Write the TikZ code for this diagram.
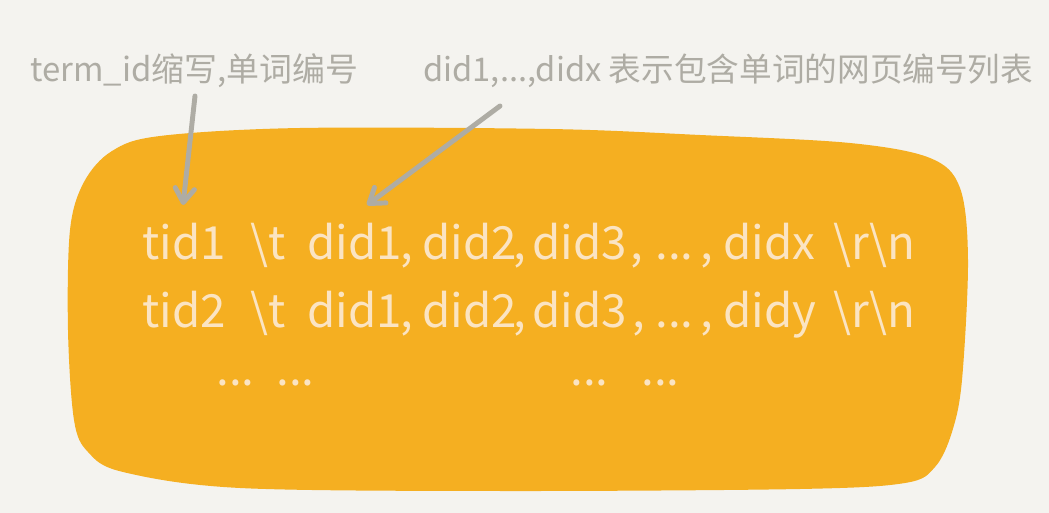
\documentclass[tikz,border=0pt]{standalone}
\usepackage{fontspec}
\setmainfont{Noto Sans CJK SC}
\usetikzlibrary{arrows.meta}
\definecolor{paperBg}{HTML}{F4F3EF}
\definecolor{blobOrange}{HTML}{F5AF21}
\definecolor{noteGray}{HTML}{AEACA4}
\definecolor{creamText}{HTML}{FBE4C2}
\newcommand{\dotrun}{...}
\tikzset{
  noteLabel/.style={
    anchor=base west,
    inner sep=0pt,
    text=noteGray,
    font=\fontsize{21}{25}\selectfont
  },
  postToken/.style={
    anchor=base west,
    inner sep=0pt,
    text=creamText,
    font=\fontsize{26}{30}\selectfont
  },
  noteArrow/.style={
    draw=noteGray,
    line width=2.8pt,
    line cap=round,
    -{Straight Barb[length=8pt,width=11pt,line cap=round,line join=round]}
  }
}
\begin{document}
\begin{tikzpicture}[x=0.02cm,y=-0.02cm]
  % Paper
  \fill[paperBg] (0,0) rectangle (1049,513);
  \useasboundingbox (0,0) rectangle (1049,513);
  % Orange blob
  \fill[blobOrange] plot[smooth cycle, tension=0.55] coordinates {
    (160,136) (300,128) (550,129) (700,135) (850,143) (930,158) (960,188)
    (968,260) (962,380) (952,432) (935,467) (905,483) (800,489) (500,491)
    (240,488) (123,472) (88,452) (74,420) (68,330) (70,230) (84,182) (112,151)};
  % Labels
  \node[noteLabel] (termlbl) at (30,82) {\resizebox{6.56cm}{!}{term\_id缩写,单词编号}};
  \node[noteLabel] (didlbl) at (423,82) {\resizebox{12.2cm}{!}{did1,\dotrun,didx 表示包含单词的网页编号列表}};
  % Posting lines
  \foreach \tok/\px [count=\i] in {tid1/142, {\textbackslash t}/250, did1/307, {,}/400, did2/422, {,}/513,
      did3/532, {,}/630, \dotrun/655, {,}/700, didx/723, {\textbackslash r\textbackslash n}/833}
    \node[postToken] (la\i) at (\px,260) {\tok};
  \foreach \tok/\px [count=\i] in {tid2/142, {\textbackslash t}/250, did1/307, {,}/400, did2/422, {,}/513,
      did3/532, {,}/632, \dotrun/655, {,}/700, didy/723, {\textbackslash r\textbackslash n}/833}
    \node[postToken] (lb\i) at (\px,328) {\tok};
  \foreach \px [count=\i] in {216, 276, 570, 641}
    \node[postToken] (lc\i) at (\px,386) {\dotrun};
  % Arrows
  \coordinate (termfrom) at (195,96);
  \coordinate (termto) at (183,205);
  \coordinate (didfrom) at (500,106);
  \coordinate (didto) at (367,205);
  \draw[noteArrow] (termfrom) -- (termto);
  \draw[noteArrow] (didfrom) -- (didto);
\end{tikzpicture}
\end{document}
